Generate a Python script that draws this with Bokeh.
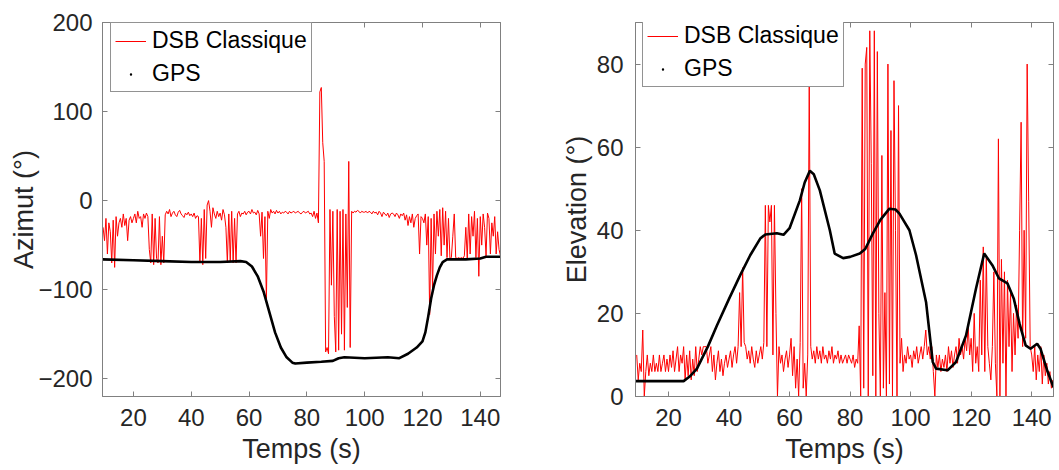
import numpy as np
from bokeh.plotting import figure
from bokeh.layouts import row
from bokeh.models import Range1d, FixedTicker, LinearAxis, Legend, LegendItem
from bokeh.embed import file_html
from bokeh.resources import INLINE

# ---------------- data ----------------
t_start = 9.5
t_step = 0.5

azimut_dsb = (
    [-30, -45, -20, -60, -25, -35, -70, -22, -75, -18, -40, -25, -20, -30, -15, -28, -20, -45, -22, -18, -25]
    + [-20, -15, -25, -12, -20, -18, -30, -15, -20, -14, -18, -55, -70, -15, -72, -20, -65, -70, -18, -72]
    + [-40, -70, -16, -12, -15, -10, -18, -14, -12, -16, -18, -13, -11, -15, -17, -19, -14, -16, -13, -17]
    + [-15, -18, -14, -20, -17, -18, -70, -20, -72, -10, -65, -5, 0, -12, -30, -8, -15, -20, -12, -18]
    + [-14, -22, -10, -16, -30, -70, -15, -68, -12, -70, -20, -70, -15, -12, -18, -14, -15, -12, -16, -13]
    + [-12, -15, -10, -14, -13, -16, -11, -15, -40, -13, -65, -18, -112, -12, -20, -10, -14, -12, -15, -11]
    + [-14, -12, -15, -13, -14, -12, -13, -15, -12, -14, -13, -12, -14, -13, -12, -14, -15, -13, -12, -14]
    + [-13, -12, -15, -14, -18, -12, -20, -14, -25, 122, 127, 65, 44, -170, -165, -172, -10, -95, -12, -130]
    + [-170, -10, -168, -12, -150, -10, -168, -15, -120, 44, -165, -12, -14, -12, -13, -11, -12, -14, -12, -13]
    + [-13, -12, -14, -12, -13, -15, -12, -14, -13, -16, -12, -14, -18, -13, -15, -17, -14, -19, -15, -14]
    + [-15, -18, -14, -16, -20, -15, -17, -14, -22, -16, -28, -18, -25, -15, -30, -20, -17, -15, -60, -18]
    + [-20, -25, -15, -50, -18, -128, -20, -100, -15, -60, -12, -40, -10, -62, -8, -50, -12, -64, -20, -65]
    + [-64, -40, -15, -64, -65, -64, -65, -64, -65, -62, -30, -65, -15, -60, -18, -40, -12, -64, -20, -85]
    + [-18, -50, -15, -30, -62, -14, -20, -60, -25, -40, -18, -60, -35, -55, -62]
)

elevation_dsb = (
    [10, 4, 8, 6, 16, 0, 6, 10, 5, 8, 6, 10, 6, 8, 6, 10, 6, 8, 10, 6, 9]
    + [6, 10, 7, 11, 6, 9, 12, 6, 10, 8, 12, 4, 10, 5, 11, 4, 9, 5, 12, 6]
    + [9, 12, 10, 12, 12, 12, 8, 10, 12, 6, 10, 4, 8, 11, 6, 9, 5, 8, 10, 7]
    + [9, 11, 7, 10, 12, 8, 12, 25, 12, 31, 13, 12, 9, 11, 8, 12, 9, 7, 11, 8]
    + [10, 12, 9, 13, 46, 12, 46, 42, 46, 10, 46, 20, 0, 12, 8, 10, 6, 9, 11, 7]
    + [10, 14, 5, 12, 2, 9, 0, 13, 50, 2, 8, 0, 10, 76, 12, 9, 11, 8, 12, 9]
    + [11, 8, 12, 9, 10, 8, 11, 9, 12, 8, 10, 9, 11, 8, 10, 8, 9, 10, 8, 10]
    + [9, 8, 10, 7, 9, 8, 17, 0, 79, 2, 80, 84, 0, 88, 56, 5, 88, 0, 83, 20]
    + [0, 58, 2, 25, 0, 80, 3, 64, 0, 76, 40, 0, 70, 8, 14, 6, 10, 8, 12, 9]
    + [10, 7, 11, 9, 12, 8, 10, 12, 9, 12, 16, 10, 12, 9, 12, 6, 0, 10, 7, 10]
    + [6, 9, 7, 10, 6, 12, 8, 11, 7, 10, 12, 8, 14, 10, 12, 9, 14, 11, 17, 10]
    + [14, 6, 20, 8, 12, 6, 28, 10, 36, 6, 34, 12, 8, 4, 12, 30, 8, 0, 62, 0]
    + [33, 8, 30, 0, 28, 12, 25, 6, 20, 10, 22, 14, 40, 66, 12, 40, 14, 80, 47, 12]
    + [10, 6, 12, 4, 10, 6, 12, 3, 10, 5, 8, 3, 6, 2, 4]
)

gps_t_az = [9.3, 20, 30, 40, 50, 57, 59, 61, 63, 65, 67, 69, 71, 73, 75, 76, 80, 85, 89, 91,
            93, 100, 108, 112, 115, 118, 120, 121, 122, 123, 124, 125, 126, 127, 128.5, 135, 140, 142, 147]
gps_az = [-66, -67, -68, -69, -69, -68, -69, -74, -85, -102, -125, -148, -165, -176, -182, -183, -182, -181, -180, -177,
          -176, -177, -176, -177, -172, -165, -158, -148, -130, -110, -95, -84, -75, -69, -66, -66, -65, -63, -63]

gps_t_el = [9.1, 25, 27, 29.4, 33, 36, 40, 43.7, 47, 50.3, 52, 55.8, 58, 60, 63.4, 65, 66.7, 68, 70, 73.3,
            74.9, 77.7, 80, 83.2, 85, 87.5, 90, 93, 95, 96.3, 99.6, 101.8, 105.1, 107.3, 108.4, 112.2, 115,
            118.3, 121.6, 124.3, 127, 129.2, 132, 134.1, 136, 138, 139.6, 141.8, 142.9, 145, 147.2]
gps_el = [3.7, 3.7, 4.8, 6.7, 12, 17.1, 23.5, 29.2, 34, 38, 39, 39.3, 38.9, 40.5, 47.2, 51.5, 54.3, 53.5, 49.6, 40,
          34.4, 33.3, 33.6, 34.4, 35.5, 39.2, 42.5, 45.2, 45, 44, 40, 34, 22.7, 8.3, 6.7, 6.3, 8.3,
          14.7, 26, 34.4, 31.6, 28.4, 27.2, 23.5, 17.5, 12.3, 11.5, 12.7, 11.5, 6.5, 2.2]

x_ticks = [20, 40, 60, 80, 100, 120, 140]
az_ticks = [-200, -100, 0, 100, 200]
el_ticks = [0, 20, 40, 60, 80]

t_az = t_start + t_step * np.arange(len(azimut_dsb))
t_el = t_start + t_step * np.arange(len(elevation_dsb))

FONT = "Liberation Sans"
TXT = "#262626"
AX = "#808080"
FRAME_H = 374


def style_axis(ax, ticks, labels=True, standoff=10):
    ax.ticker = FixedTicker(ticks=ticks)
    ax.major_tick_in = 5
    ax.major_tick_out = 0
    ax.minor_tick_line_color = None
    ax.axis_line_color = AX
    ax.major_tick_line_color = AX
    ax.major_label_text_font = FONT
    if labels:
        ax.major_label_text_color = TXT
        ax.major_label_text_font_size = "24px"
        ax.major_label_standoff = standoff
    else:
        ax.major_label_text_color = None
        ax.major_label_text_font_size = "1px"
        ax.major_label_standoff = 0
    ax.axis_label_text_font = FONT
    ax.axis_label_text_font_size = "27px"
    ax.axis_label_text_font_style = "normal"
    ax.axis_label_text_color = TXT


def make_fig(width, mbl, mbr, xr, yr, yticks, ylabel, t, dsb, gt, gv, leg_loc, ystand, ylab_stand):
    p = figure(width=width, height=470, x_range=Range1d(*xr), y_range=Range1d(*yr),
               output_backend="svg", toolbar_location=None,
               min_border_left=mbl, min_border_right=mbr, min_border_top=22,
               min_border_bottom=470 - 22 - FRAME_H)
    p.grid.visible = False
    p.outline_line_color = AX
    p.background_fill_color = "white"
    p.border_fill_color = "white"

    style_axis(p.xaxis[0], x_ticks, True, 12)
    p.xaxis[0].axis_label = "Temps (s)"
    p.xaxis[0].axis_label_standoff = 5
    style_axis(p.yaxis[0], yticks, True, ystand)
    p.yaxis[0].axis_label = ylabel
    p.yaxis[0].axis_label_standoff = ylab_stand

    top = LinearAxis()
    style_axis(top, x_ticks, False)
    p.add_layout(top, "above")
    right = LinearAxis()
    style_axis(right, yticks, False)
    p.add_layout(right, "right")

    r_red = p.line(t, dsb, line_color="#ff0000", line_width=1)
    p.line(gt, gv, line_color="black", line_width=2.6)
    r_dot = p.scatter(gt, gv, marker="dot", size=6, fill_color="black", line_color="black")

    legend = Legend(items=[LegendItem(label="DSB Classique", renderers=[r_red]),
                           LegendItem(label="GPS", renderers=[r_dot])],
                    location=leg_loc, orientation="vertical")
    legend.label_text_font = FONT
    legend.label_text_font_size = "23px"
    legend.label_text_color = "black"
    legend.border_line_color = "#262626"
    legend.border_line_width = 1
    legend.background_fill_color = "white"
    legend.background_fill_alpha = 1
    legend.padding = 4
    legend.spacing = 6
    legend.margin = 0
    legend.glyph_width = 31
    legend.glyph_height = 24
    legend.label_height = 24
    legend.label_standoff = 6
    p.add_layout(legend)
    return p


p1 = make_fig(528, 102, 28, (9.3, 147), (-220, 200), az_ticks, "Azimut (°)",
              t_az, azimut_dsb, gps_t_az, gps_az, (8, 304), 10, -4)
p2 = make_fig(529, 107, 4, (9.1, 147.2), (0, 90), el_ticks, "Elevation (°)",
              t_el, elevation_dsb, gps_t_el, gps_el, (7, 309), 12, 2)

layout = row(p1, p2)
open("out.html", "w").write(file_html(layout, INLINE))
